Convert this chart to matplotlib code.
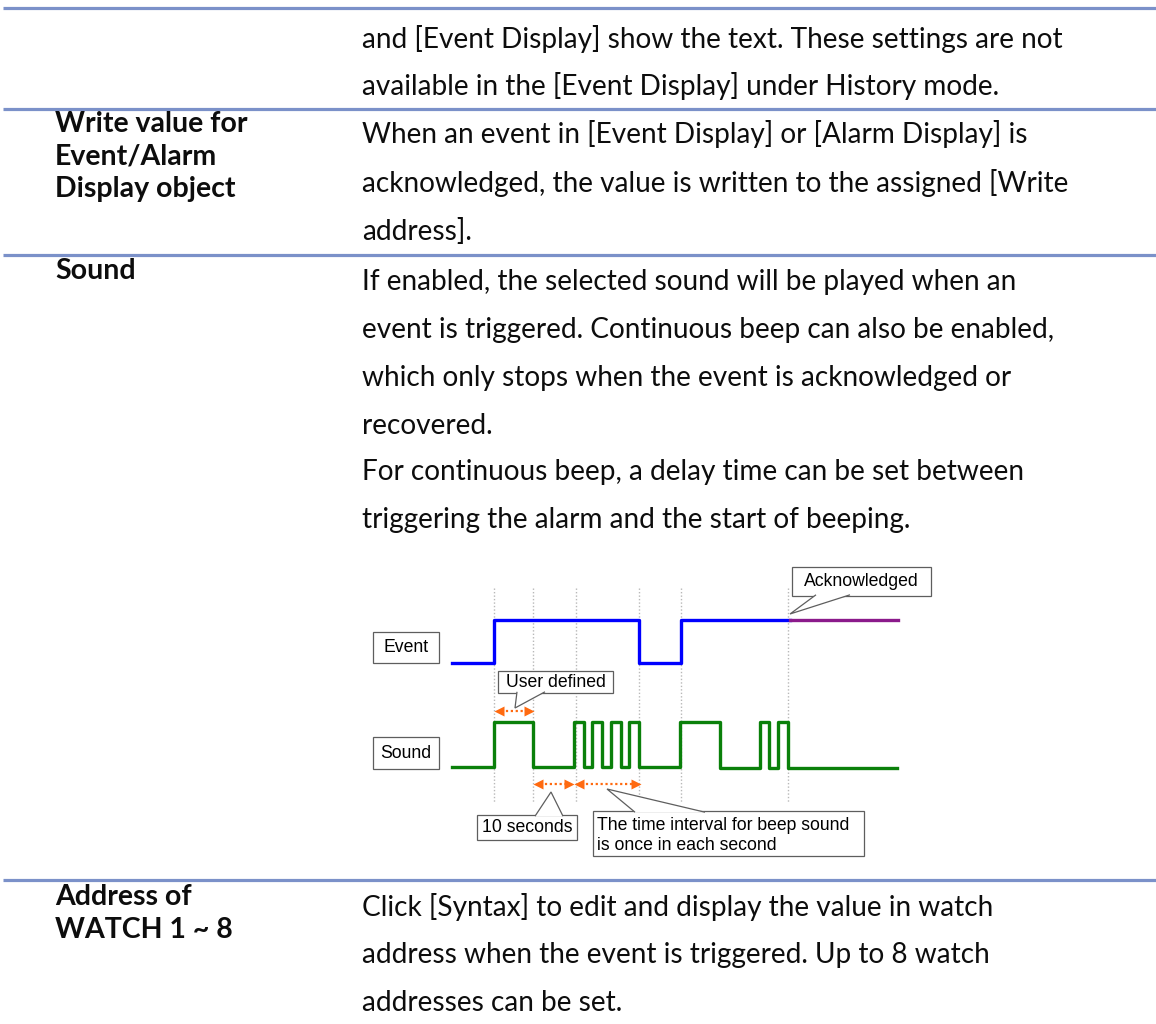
import matplotlib.pyplot as plt
from matplotlib.patches import Polygon, Rectangle

# page layout in pixels (y grows downward)
W, H = 1156, 1024
RULE_Y = [8, 109, 255, 880]
RULE_COLOR = "#7b91c9"

BODY_X = 362
LABEL_X = 55
BODY_FONT = ["Lato", "DejaVu Sans"]
DIAG_FONT = ["Liberation Sans", "DejaVu Sans"]

body_lines = [
    (39, "and [Event Display] show the text. These settings are not"),
    (86, "available in the [Event Display] under History mode."),
    (134, "When an event in [Event Display] or [Alarm Display] is"),
    (183, "acknowledged, the value is written to the assigned [Write"),
    (232, "address]."),
    (282, "If enabled, the selected sound will be played when an"),
    (330, "event is triggered. Continuous beep can also be enabled,"),
    (378, "which only stops when the event is acknowledged or"),
    (426, "recovered."),
    (472, "For continuous beep, a delay time can be set between"),
    (520, "triggering the alarm and the start of beeping."),
    (907, "Click [Syntax] to edit and display the value in watch"),
    (955, "address when the event is triggered. Up to 8 watch"),
    (1003, "addresses can be set."),
]

label_lines = [
    (124, "Write value for"),
    (157, "Event/Alarm"),
    (189, "Display object"),
    (271, "Sound"),
    (897, "Address of"),
    (930, "WATCH 1 ~ 8"),
]

# timing diagram (pixel positions on the page)
event_x = [452, 494, 494, 639, 639, 681, 681, 790]
event_y = [663, 663, 620, 620, 663, 663, 620, 620]
ack_x = [790, 898]
ack_y = [620, 620]

sound_x = [452, 494, 494, 533, 533, 574, 574, 584, 584, 592, 592, 602, 602, 611,
           611, 621, 621, 629, 629, 639, 639, 680, 680, 720, 720, 760, 760, 769,
           769, 778, 778, 788, 788, 897]
sound_y = [767, 767, 722, 722, 767, 767, 722, 722, 767, 767, 722, 722, 767, 767,
           722, 722, 767, 767, 722, 722, 767, 767, 722, 722, 768, 768, 722, 722,
           768, 768, 722, 722, 768, 768]

guide_x = [494, 533, 576, 639, 681, 788]
guide_top, guide_bottom = 588, 803

# orange span arrows: (x0, x1, y)
spans = [(495, 532, 711), (534, 572, 784), (575, 639, 784)]

# callouts: (x0, y0, x1, y1, text lines, pointer base xs, pointer tip)
callouts = [
    (373, 632, 439, 663, ["Event"], None, None),
    (373, 737, 439, 769, ["Sound"], None, None),
    (498, 671, 613, 693, ["User defined"], (517, 545), (515, 708)),
    (792, 567, 931, 596, ["Acknowledged"], (816, 850), (790, 614)),
    (477, 815, 577, 840, ["10 seconds"], (535, 563), (551, 792)),
    (593, 811, 864, 856, ["The time interval for beep sound",
                          "is once in each second"], (635, 705), (607, 789)),
]

fig = plt.figure(figsize=(W / 100, H / 100), dpi=100)
ax = fig.add_axes([0, 0, 1, 1])
ax.set_xlim(0, W)
ax.set_ylim(H, 0)
ax.axis("off")

for y in RULE_Y:
    ax.plot([3, W], [y, y], color=RULE_COLOR, lw=2.3, solid_capstyle="butt")

for y, s in body_lines:
    ax.text(BODY_X, y, s, fontsize=20.2, family=BODY_FONT, va="center", color="#0d0d0d")
for y, s in label_lines:
    ax.text(LABEL_X, y, s, fontsize=20.5, family=BODY_FONT, weight="bold",
            va="center", color="#0d0d0d")

ax.vlines(guide_x, guide_top, guide_bottom, colors="#b8b8b8", lw=1,
          linestyles=(0, (1, 1.5)), zorder=1)

ax.plot(event_x, event_y, color="#0000ff", lw=2.4, zorder=3)
ax.plot(ack_x, ack_y, color="#8b1a8b", lw=2.4, zorder=3)
ax.plot(sound_x, sound_y, color="#0a800a", lw=2.4, zorder=3)

for x0, x1, y in spans:
    ax.plot([x0 + 6, x1 - 6], [y, y], color="#ff6a10", lw=1.6, ls=(0, (1, 1.2)), zorder=3)
    ax.plot(x0 + 3.5, y, marker="<", ms=7, color="#ff6a10", mec="none", zorder=3)
    ax.plot(x1 - 3.5, y, marker=">", ms=7, color="#ff6a10", mec="none", zorder=3)

for x0, y0, x1, y1, lines, base, tip in callouts:
    ax.add_patch(Rectangle((x0, y0), x1 - x0, y1 - y0, facecolor="white",
                           edgecolor="#5e5e5e", lw=0.9, zorder=4))
    if base is not None:
        edge = y1 if tip[1] > y1 else y0
        inset = -1.2 if tip[1] > y1 else 1.2
        tri = [(base[0], edge + inset), tip, (base[1], edge + inset)]
        ax.add_patch(Polygon(tri, closed=False, facecolor="white",
                             edgecolor="#5e5e5e", lw=0.9, zorder=5))
    if len(lines) == 1:
        ax.text((x0 + x1) / 2, (y0 + y1) / 2 + 0.5, lines[0], fontsize=12.7,
                family=DIAG_FONT, ha="center", va="center", zorder=6)
    else:
        for i, s in enumerate(lines):
            ax.text(x0 + 4, y0 + 14 + i * 21, s, fontsize=12.7, family=DIAG_FONT,
                    ha="left", va="center", zorder=6)

fig.savefig("out.png", dpi=100, facecolor="white")
